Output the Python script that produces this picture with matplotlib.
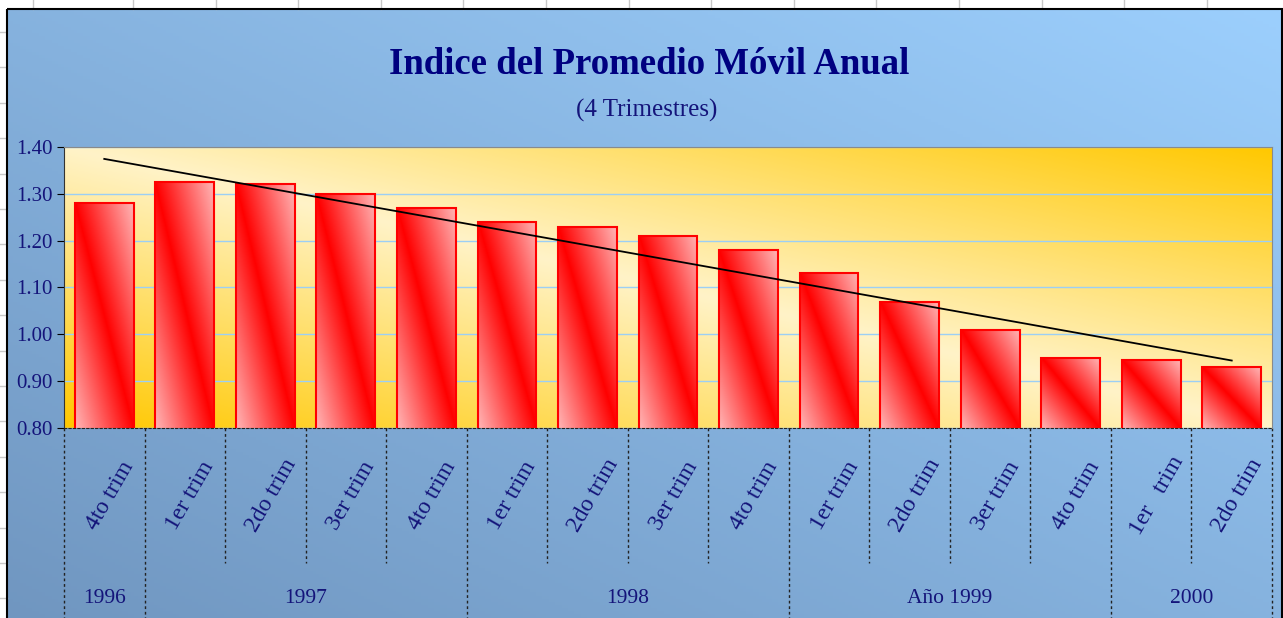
import numpy as np
import matplotlib
matplotlib.use("Agg")
import matplotlib.pyplot as plt
from matplotlib.patches import Rectangle

plt.rcParams['font.family'] = ['Liberation Serif', 'DejaVu Serif']

# data
quarters = ["4to trim", "1er trim", "2do trim", "3er trim", "4to trim",
            "1er trim", "2do trim", "3er trim", "4to trim",
            "1er trim", "2do trim", "3er trim", "4to trim",
            "1er   trim", "2do trim"]
indice = [1.28, 1.325, 1.32, 1.30, 1.27, 1.24, 1.23, 1.21, 1.18,
          1.13, 1.07, 1.01, 0.95, 0.945, 0.93]
years = ["1996", "1997", "1998", "Año 1999", "2000"]
year_counts = [1, 4, 4, 4, 2]
yticks = [0.80, 0.90, 1.00, 1.10, 1.20, 1.30, 1.40]

navy = "#14147a"
W, H = 1283, 618
fig = plt.figure(figsize=(W / 100, H / 100), dpi=100)

# spreadsheet behind the chart
bg = fig.add_axes([0, 0, 1, 1])
bg.set_xlim(0, W)
bg.set_ylim(H, 0)
bg.axis("off")
for x in [33] + list(np.arange(133, W, 82.6)):
    bg.plot([x, x], [0, 9], color="#c8c8c8", lw=1)
for y in np.arange(32, H, 35.4):
    bg.plot([0, 7], [y, y], color="#c8c8c8", lw=1)

# chart frame gradient (dark bottom-left -> light top-right)
fh, fw = 200, 400
u = np.linspace(0, 1, fw)[None, :]
v = np.linspace(1, 0, fh)[:, None]
t = ((u + v) / 2)[..., None]
dark = np.array([0x70, 0x96, 0xc0]) / 255
light = np.array([0x9c, 0xcf, 0xfd]) / 255
bg.imshow(dark + t * (light - dark), extent=(7, 1282, 620, 9), origin="upper",
          aspect="auto", zorder=1)
bg.add_patch(Rectangle((7, 9), 1275, 620, fill=False, ec="black", lw=1.5, zorder=2))
bg.set_xlim(0, W)
bg.set_ylim(H, 0)

fig.text(649 / W, 1 - 64 / H, "Indice del Promedio Móvil Anual", ha="center",
         va="center", fontsize=26.5, fontweight="bold", color="#000080")
fig.text(647 / W, 1 - 110 / H, "(4 Trimestres)", ha="center", va="center",
         fontsize=18, color=navy)

ax = fig.add_axes([64 / W, (H - 428) / H, (1272 - 64) / W, 281 / H])
x = np.arange(len(indice))

# plot area gradient: cream on the diagonal, gold in the corners
gh, gw = 200, 400
gu = np.linspace(0, 1, gw)[None, :]
gv = np.linspace(1, 0, gh)[:, None]
gt = np.abs(gu + gv - 1)[..., None]
cream = np.array([0xff, 0xf3, 0xc8]) / 255
gold = np.array([0xff, 0xc8, 0x00]) / 255
ax.imshow(cream + gt * (gold - cream), extent=(-0.5, 14.5, 0.8, 1.4),
          origin="upper", aspect="auto", zorder=0)

ax.set_yticks(yticks)
ax.yaxis.grid(True, color="#9ccff5", lw=1, zorder=0.5)

bars = ax.bar(x, indice, width=0.73, bottom=0, facecolor="none",
              edgecolor="#ff0000", lw=1.5, zorder=3)
# red diagonal gradient inside each bar
bh, bw = 100, 60
bu = np.linspace(0, 1, bw)[None, :]
bv = np.linspace(1, 0, bh)[:, None]
bt = np.abs(bu + bv - 1)[..., None]
red = np.array([1.0, 0.0, 0.0])
pink = np.array([1.0, 0.71, 0.71])
bar_img = red + bt * (pink - red)
for b in bars:
    x0, w_, h_ = b.get_x(), b.get_width(), b.get_height()
    im = ax.imshow(bar_img, extent=(x0, x0 + w_, 0.8, h_), origin="upper",
                   aspect="auto", zorder=2)
    im.set_clip_path(b)

# linear trend line
k, c0 = np.polyfit(x, indice, 1)
ax.plot([x[0], x[-1]], [k * x[0] + c0, k * x[-1] + c0], color="black", lw=1.3, zorder=4)

ax.set_xlim(-0.5, 14.5)
ax.set_ylim(0.8, 1.4)
ax.set_xticks([])
ax.yaxis.set_major_formatter(matplotlib.ticker.FormatStrFormatter("%.2f"))
ax.tick_params(axis="y", direction="out", length=5, colors="black",
               labelcolor=navy, labelsize=15, pad=3)
for s in ["top", "right"]:
    ax.spines[s].set_color("#8a8a8a")
ax.spines["left"].set_color("#333333")
ax.spines["bottom"].set_linestyle((0, (2, 2)))
ax.spines["bottom"].set_color("#222222")

# two-level category axis
tr = ax.get_xaxis_transform()
year_edges = np.concatenate([[0], np.cumsum(year_counts)]) - 0.5
for i in range(len(quarters) + 1):
    b = i - 0.5
    bottom = -0.7 if b in year_edges else -0.48
    ax.plot([b, b], [0, bottom], transform=tr, clip_on=False, color="#222222",
            lw=1, ls=(0, (2, 2)))
for i, q in enumerate(quarters):
    ax.text(i + 0.07, -0.24, q, transform=tr, rotation=60, ha="center",
            va="center", rotation_mode="anchor", fontsize=17, color=navy)
for j, yr in enumerate(years):
    mid = (year_edges[j] + year_edges[j + 1]) / 2
    ax.text(mid, -0.605, yr, transform=tr, ha="center", va="center",
            fontsize=15.5, color=navy)

fig.savefig("out.png", dpi=100)
